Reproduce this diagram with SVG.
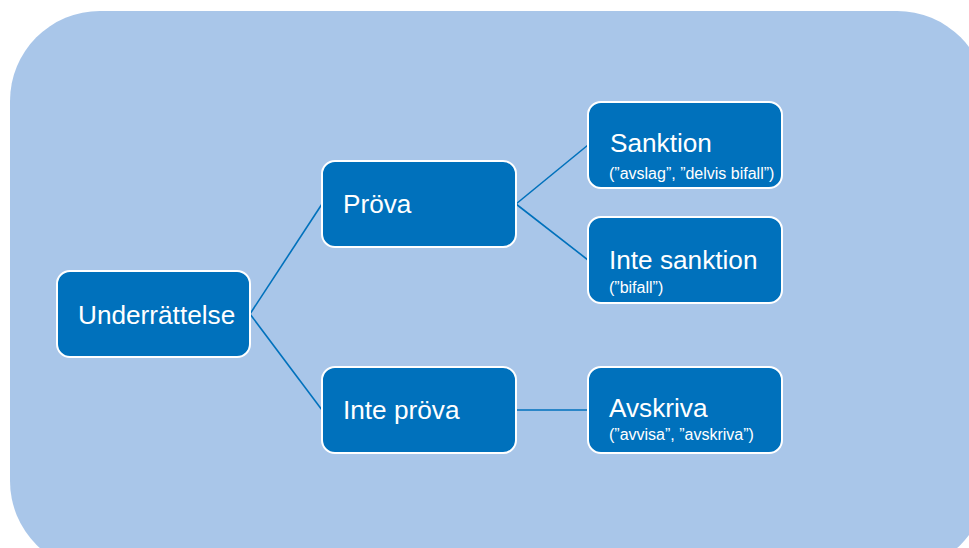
<svg xmlns="http://www.w3.org/2000/svg" width="969" height="548" viewBox="0 0 969 548">
<style>
.node{fill:#0071BC;stroke:#FFFFFF;stroke-width:2}
.t{font-family:"Liberation Sans",Arial,sans-serif;fill:#FFFFFF;font-size:26.2px}
.s{font-family:"Liberation Sans",Arial,sans-serif;fill:#FFFFFF;font-size:16px}
.c{stroke:#0071BC;stroke-width:1.6;fill:none}
</style>
<rect x="0" y="0" width="969" height="548" fill="#FFFFFF"/>
<rect id="background" x="10" y="11" width="977" height="560" rx="90" ry="90" fill="#A9C6E9"/>
<g id="connectors">
<line class="c" x1="250" y1="314" x2="322" y2="204"/>
<line class="c" x1="250" y1="314" x2="322" y2="410"/>
<line class="c" x1="516" y1="204" x2="588" y2="145"/>
<line class="c" x1="516" y1="204" x2="588" y2="260"/>
<line class="c" x1="516" y1="410" x2="588" y2="410"/>
</g>
<g id="underrattelse">
<rect class="node" x="57" y="271" width="193" height="86" rx="13"/>
<text class="t" x="78" y="324">Underrättelse</text>
</g>
<g id="prova">
<rect class="node" x="322" y="161" width="194" height="86" rx="13"/>
<text class="t" x="343" y="213">Pröva</text>
</g>
<g id="inte-prova">
<rect class="node" x="322" y="367" width="194" height="86" rx="13"/>
<text class="t" x="343" y="419">Inte pröva</text>
</g>
<g id="sanktion">
<rect class="node" x="588" y="102" width="194" height="86" rx="13"/>
<text class="t" x="610" y="152">Sanktion</text>
<text class="s" x="609" y="179">(”avslag”, ”delvis bifall”)</text>
</g>
<g id="inte-sanktion">
<rect class="node" x="588" y="217" width="194" height="86" rx="13"/>
<text class="t" x="609" y="269">Inte sanktion</text>
<text class="s" x="609" y="293">(”bifall”)</text>
</g>
<g id="avskriva">
<rect class="node" x="588" y="367" width="194" height="86" rx="13"/>
<text class="t" x="609" y="417">Avskriva</text>
<text class="s" x="609" y="440">(”avvisa”, ”avskriva”)</text>
</g>
</svg>
